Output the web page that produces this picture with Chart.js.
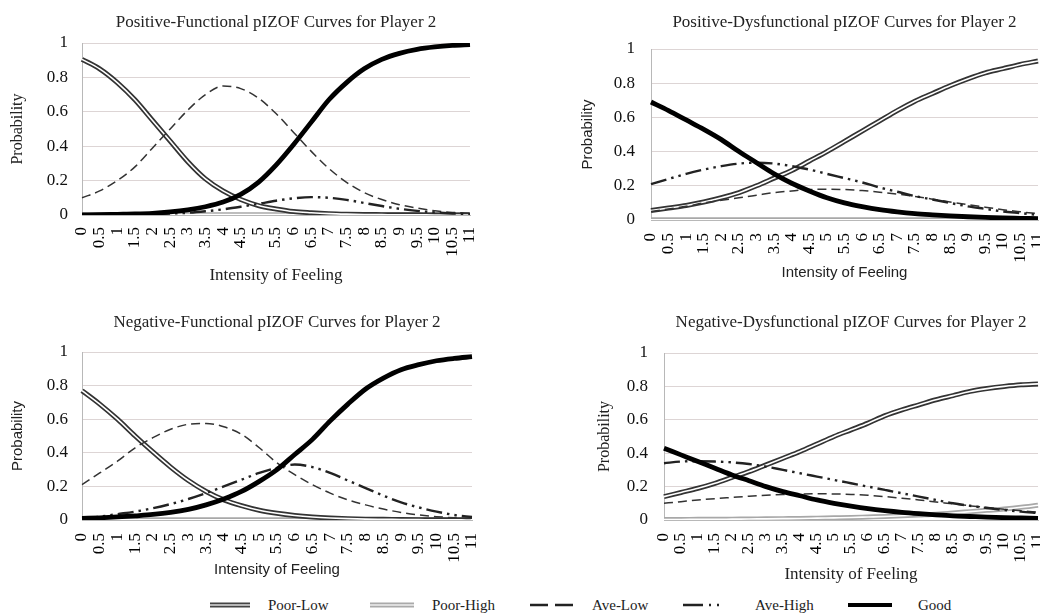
<!DOCTYPE html>
<html>
<head>
<meta charset="utf-8">
<script src="https://cdn.jsdelivr.net/npm/chart.js@4/dist/chart.umd.min.js"></script>
<style>
  body { margin: 0; background: #fff; width: 1040px; height: 616px; position: relative; overflow: hidden; }
  canvas { position: absolute; }
  .lg { position: absolute; top: 594px; height: 22px; display: flex; align-items: center;
        font: 15px "Liberation Serif", serif; color: #222; white-space: nowrap; }
  .lg svg { margin-right: 18px; }
</style>
</head>
<body>
<canvas id="pf" width="520" height="300" style="left:0;top:0"></canvas>
<canvas id="pd" width="520" height="300" style="left:520px;top:0"></canvas>
<canvas id="nf" width="520" height="290" style="left:0;top:300px"></canvas>
<canvas id="nd" width="520" height="290" style="left:520px;top:300px"></canvas>

<div class="lg" style="left:210px"><svg width="40" height="10"><line x1="0" y1="5" x2="40" y2="5" stroke="#444" stroke-width="5"/><line x1="0" y1="5" x2="40" y2="5" stroke="#ddd" stroke-width="1.4"/></svg>Poor-Low</div>
<div class="lg" style="left:370px"><svg width="44" height="10"><line x1="0" y1="5" x2="44" y2="5" stroke="#aaa" stroke-width="5"/><line x1="0" y1="5" x2="44" y2="5" stroke="#eee" stroke-width="1.4"/></svg>Poor-High</div>
<div class="lg" style="left:530px"><svg width="44" height="10"><line x1="0" y1="5" x2="44" y2="5" stroke="#222" stroke-width="2.5" stroke-dasharray="18 7"/></svg>Ave-Low</div>
<div class="lg" style="left:683px"><svg width="54" height="10"><line x1="0" y1="5" x2="44" y2="5" stroke="#222" stroke-width="2.5" stroke-dasharray="20 6 2 6 2 8"/></svg>Ave-High</div>
<div class="lg" style="left:848px"><svg width="52" height="10"><line x1="0" y1="5" x2="44" y2="5" stroke="#000" stroke-width="4"/></svg>Good</div>

<script>
const xLabels = ['0','0.5','1','1.5','2','2.5','3','3.5','4','4.5','5','5.5',
                 '6','6.5','7','7.5','8','8.5','9','9.5','10','10.5','11'];

// Positive-Functional
const pfPoorLow  = [.905,.85,.77,.67,.55,.43,.31,.21,.14,.09,.055,.035,.02,.013,.008,.005,.003,.002,.001,.001,0,0,0];
const pfPoorHigh = [.001,.001,.001,.002,.002,.002,.002,.002,.002,.002,.002,.002,.002,.002,.002,.001,.001,.001,.001,.001,.001,.001,.001];
const pfAveLow   = [.10,.14,.20,.28,.39,.50,.61,.70,.75,.735,.68,.59,.48,.37,.27,.19,.13,.09,.06,.04,.025,.015,.01];
const pfAveHigh  = [0,0,.001,.002,.004,.008,.013,.022,.033,.048,.065,.083,.097,.104,.1,.088,.07,.052,.036,.024,.015,.009,.005];
const pfGood     = [.001,.002,.004,.006,.01,.018,.03,.048,.075,.12,.19,.29,.41,.54,.67,.77,.85,.905,.94,.963,.977,.986,.991];

// Positive-Dysfunctional
const pdPoorLow  = [.055,.07,.085,.105,.13,.16,.2,.245,.29,.345,.4,.46,.52,.58,.64,.695,.74,.785,.825,.86,.885,.91,.93];
const pdPoorHigh = [.001,.001,.001,.001,.001,.001,.001,.001,.001,.001,.001,.001,.001,.001,.001,.001,.001,.001,.001,.001,.001,.001,.001];
const pdAveLow   = [.05,.065,.08,.1,.115,.13,.145,.16,.17,.178,.18,.178,.172,.163,.152,.138,.122,.105,.09,.075,.06,.048,.037];
const pdAveHigh  = [.21,.24,.27,.295,.315,.33,.335,.33,.315,.295,.27,.245,.22,.19,.165,.14,.12,.1,.08,.065,.05,.04,.03];
const pdGood     = [.69,.64,.585,.53,.47,.40,.335,.27,.215,.17,.13,.10,.078,.06,.047,.037,.03,.024,.019,.015,.012,.01,.008];

// Negative-Functional
const nfPoorLow  = [.77,.69,.60,.50,.405,.315,.235,.17,.12,.085,.058,.04,.027,.018,.012,.008,.005,.004,.003,.002,.001,.001,.001];
const nfPoorHigh = [.001,.001,.001,.001,.001,.001,.001,.001,.001,.001,.001,.001,.001,.001,.001,.001,.001,.001,.001,.001,.001,.001,.001];
const nfAveLow   = [.21,.28,.35,.43,.49,.54,.57,.575,.555,.51,.43,.34,.27,.21,.16,.12,.09,.065,.045,.03,.02,.013,.008];
const nfAveHigh  = [.01,.02,.035,.05,.07,.095,.125,.16,.2,.24,.28,.31,.33,.315,.28,.235,.19,.145,.105,.075,.05,.03,.018];
const nfGood     = [.01,.013,.018,.025,.033,.045,.063,.09,.125,.17,.23,.30,.39,.48,.59,.69,.78,.845,.895,.925,.948,.962,.972];

// Negative-Dysfunctional
const ndPoorLow  = [.14,.165,.19,.22,.255,.29,.33,.37,.41,.455,.5,.54,.58,.625,.66,.69,.72,.745,.77,.787,.8,.81,.815];
const ndPoorHigh = [.003,.003,.004,.004,.005,.006,.007,.008,.009,.011,.013,.015,.018,.021,.025,.03,.035,.042,.05,.058,.066,.076,.088];
const ndAveLow   = [.1,.11,.12,.128,.135,.142,.148,.153,.156,.157,.156,.153,.148,.14,.13,.12,.108,.097,.085,.075,.065,.055,.047];
const ndAveHigh  = [.34,.35,.352,.35,.345,.335,.32,.3,.28,.26,.24,.22,.2,.18,.16,.14,.12,.1,.085,.072,.06,.05,.042];
const ndGood     = [.43,.39,.35,.31,.27,.235,.2,.17,.145,.12,.1,.083,.068,.056,.046,.038,.031,.025,.021,.017,.014,.012,.01];

const yTicks = [0, 0.2, 0.4, 0.6, 0.8, 1];

const SERIF = '"Liberation Serif", "Times New Roman", serif';
const SANS  = '"Liberation Sans", Arial, sans-serif';

// double line = wide outer stroke + thin light stroke on top
function doubleLine(label, data, outer) {
  return [
    { label: label + ' inner', data, borderColor: '#fff', borderWidth: 1.6 },
    { label, data, borderColor: outer, borderWidth: 5 },
  ];
}

function makeDatasets(pl, ph, al, ah, g) {
  // first dataset is painted last (on top)
  return [
    { label: 'Good', data: g, borderColor: '#000', borderWidth: 4.8 },
    { label: 'Ave-High', data: ah, borderColor: '#222', borderWidth: 2.4, borderDash: [16, 5, 2.5, 5, 2.5, 5] },
    { label: 'Ave-Low', data: al, borderColor: '#333', borderWidth: 1.5, borderDash: [9, 5] },
    ...doubleLine('Poor-Low', pl, '#333'),
    ...doubleLine('Poor-High', ph, '#a8a8a8'),
  ];
}

function makeChart(id, title, datasets, g) {
  return new Chart(document.getElementById(id).getContext('2d'), {
    type: 'line',
    data: { labels: xLabels, datasets },
    options: {
      responsive: false, animation: false,
      layout: { padding: { left: 0, right: g.padR, top: 0, bottom: 0 } },
      elements: { point: { radius: 0 }, line: { cubicInterpolationMode: 'monotone', borderCapStyle: 'butt' } },
      plugins: {
        legend: { display: false },
        tooltip: { enabled: false },
        title: {
          display: true, text: title, fullSize: false, color: '#222',
          font: { family: SERIF, size: 17, weight: 'normal', lineHeight: 1.06 },
          padding: { top: 14, bottom: g.titleB },
        },
      },
      scales: {
        x: {
          grid: { display: false, drawTicks: false },
          border: { color: '#b8b8b8' },
          ticks: { autoSkip: false, minRotation: 90, maxRotation: 90, padding: g.xTickPad,
                   color: '#000', font: { family: SERIF, size: 17 } },
          title: { display: true, text: 'Intensity of Feeling', color: '#222',
                   font: g.xTitleFont, padding: { top: 0, bottom: g.xTitleB } },
          afterFit: s => {
            s.height = g.xH;
            // let the last rotated label run off the edge, as in the original
            s.paddingRight = 0;
            s.paddingLeft = 0;
          },
        },
        y: {
          min: 0, max: 1,
          grid: { color: '#ddd5d5', drawTicks: false },
          border: { color: '#b8b8b8' },
          afterBuildTicks: s => { s.ticks = yTicks.map(v => ({ value: v })); },
          ticks: { padding: g.yTickPad, color: '#111', font: { family: SERIF, size: 17 },
                   callback: v => String(v) },
          title: { display: true, text: 'Probability', color: '#222',
                   font: g.yTitleFont, padding: { top: g.yTitleT, bottom: 0 } },
          afterFit: s => { s.width = g.yW; },
        },
      },
    },
  });
}

const serifTitle = { family: SERIF, size: 17 };
const serifY     = { family: SERIF, size: 16 };
const sansTitle  = { family: SANS, size: 15 };

makeChart('pf', 'Positive-Functional pIZOF Curves for Player 2',
  makeDatasets(pfPoorLow, pfPoorHigh, pfAveLow, pfAveHigh, pfGood),
  { padR: 50, titleB: 11, xH: 85, xTickPad: 12, xTitleFont: serifTitle, xTitleB: 14,
    yW: 82, yTickPad: 14, yTitleFont: serifY, yTitleT: 8 });

makeChart('pd', 'Positive-Dysfunctional pIZOF Curves for Player 2',
  makeDatasets(pdPoorLow, pdPoorHigh, pdAveLow, pdAveHigh, pdGood),
  { padR: 2, titleB: 17, xH: 80, xTickPad: 13, xTitleFont: sansTitle, xTitleB: 18,
    yW: 131, yTickPad: 16, yTitleFont: sansTitle, yTitleT: 59 });

makeChart('nf', 'Negative-Functional pIZOF Curves for Player 2',
  makeDatasets(nfPoorLow, nfPoorHigh, nfAveLow, nfAveHigh, nfGood),
  { padR: 48, titleB: 20, xH: 70, xTickPad: 13, xTitleFont: sansTitle, xTitleB: 11,
    yW: 82, yTickPad: 14, yTitleFont: sansTitle, yTitleT: 9 });

makeChart('nd', 'Negative-Dysfunctional pIZOF Curves for Player 2',
  makeDatasets(ndPoorLow, ndPoorHigh, ndAveLow, ndAveHigh, ndGood),
  { padR: 2, titleB: 21, xH: 70, xTickPad: 13, xTitleFont: serifTitle, xTitleB: 5,
    yW: 144, yTickPad: 16, yTitleFont: serifY, yTitleT: 75 });
</script>
</body>
</html>
